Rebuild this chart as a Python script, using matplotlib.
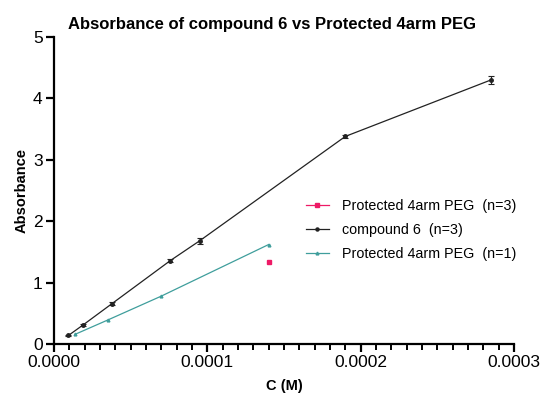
import matplotlib
matplotlib.use("Agg")
import matplotlib.pyplot as plt
from matplotlib.lines import Line2D
from matplotlib.ticker import MultipleLocator, FormatStrFormatter

plt.rcParams["font.family"] = ["Liberation Sans", "DejaVu Sans"]

# compound 6 (n=3), mean and SD
c6_x = [9.5e-6, 1.9e-5, 3.8e-5, 7.6e-5, 9.5e-5, 1.9e-4, 2.85e-4]
c6_y = [0.14, 0.31, 0.66, 1.36, 1.68, 3.38, 4.30]
c6_err = [0.01, 0.02, 0.02, 0.02, 0.05, 0.03, 0.07]

# Protected 4arm PEG (n=1)
peg1_x = [1.4e-5, 3.5e-5, 7.0e-5, 1.4e-4]
peg1_y = [0.16, 0.39, 0.78, 1.62]

# Protected 4arm PEG (n=3)
peg3_x = [1.4e-4]
peg3_y = [1.33]

labels = ["Protected 4arm PEG  (n=3)", "compound 6  (n=3)", "Protected 4arm PEG  (n=1)"]

pink = "#EE1A66"
teal = "#3F9E9C"
dark = "#222222"

fig = plt.figure(figsize=(5.44, 4.01), dpi=100)
ax = fig.add_axes([0.099, 0.142, 0.846, 0.766])

ax.plot(peg3_x, peg3_y, "s", color=pink, ms=3)
ax.errorbar(c6_x, c6_y, yerr=c6_err, fmt="-o", color=dark, ms=2.5, lw=0.9,
            elinewidth=0.8, capsize=2, capthick=0.8)
ax.plot(peg1_x, peg1_y, "-^", color=teal, ms=2, lw=0.9)

ax.set_xlim(0, 0.0003)
ax.set_ylim(0, 5)
ax.xaxis.set_major_locator(MultipleLocator(0.0001))
ax.xaxis.set_minor_locator(MultipleLocator(0.00001))
ax.xaxis.set_major_formatter(FormatStrFormatter("%.4f"))
ax.yaxis.set_major_locator(MultipleLocator(1))

for side in ["top", "right"]:
    ax.spines[side].set_visible(False)
for side in ["left", "bottom"]:
    ax.spines[side].set_linewidth(1.6)
ax.tick_params(which="major", length=6, width=1.6, labelsize=12.5, pad=2)
ax.tick_params(which="minor", length=4, width=1.4)

ax.set_xlabel("C (M)", fontsize=10.5, fontweight="bold", labelpad=6)
ax.set_ylabel("Absorbance", fontsize=10.5, fontweight="bold", labelpad=3)
fig.text(0.5, 0.94, "Absorbance of compound 6 vs Protected 4arm PEG",
         ha="center", va="center", fontsize=12, fontweight="bold")

handles = [
    Line2D([], [], color=pink, lw=0.9, marker="s", ms=2.5),
    Line2D([], [], color=dark, lw=0.9, marker="o", ms=2.2),
    Line2D([], [], color=teal, lw=0.9, marker="^", ms=2),
]
ax.legend(handles, labels, loc="center left", bbox_to_anchor=(0.52, 0.37),
          frameon=False, fontsize=10.3, handlelength=1.6, handletextpad=0.9,
          labelspacing=0.7)

fig.savefig("out.png", dpi=100)
